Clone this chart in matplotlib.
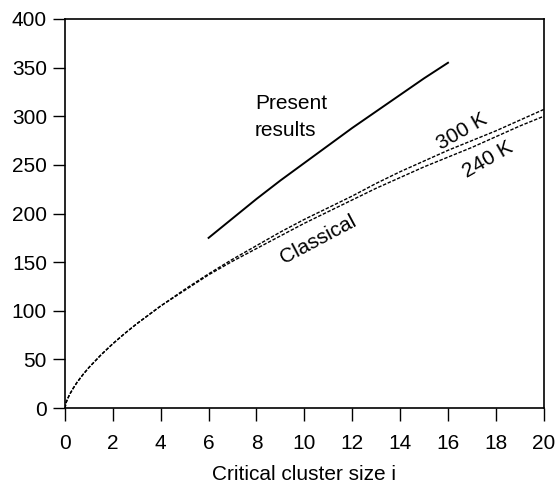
import matplotlib.pyplot as plt

plt.rcParams['font.family'] = ['Liberation Sans', 'DejaVu Sans']

# present (kinetic) results: barrier vs critical cluster size
present_i = [6, 7, 8, 9, 10, 11, 12, 13, 14, 15, 16]
present_w = [175, 195, 215, 234, 252, 270, 288, 305, 322, 339, 355]

# classical nucleation theory at two temperatures
classical_i = [0, 0.05, 0.1, 0.2, 0.35, 0.5, 0.75, 1, 1.5, 2, 2.5, 3, 4, 5, 6, 7, 8,
               9, 10, 11, 12, 13, 14, 15, 16, 17, 18, 19, 20]
classical_300 = [0, 5.7, 9, 14.3, 20.6, 26.3, 34.4, 41.7, 54.6, 66.2, 76.8, 86.7,
                 105, 122, 138, 153, 167, 181, 194, 206, 218, 231, 243, 254,
                 265, 275, 285, 296, 307]
classical_240 = [0, 5.7, 9, 14.3, 20.6, 26.3, 34.4, 41.7, 54.6, 66.2, 76.8, 86.7,
                 105, 121, 137, 151, 164, 177, 190, 202, 214, 226, 237, 248,
                 258, 268, 279, 290, 300]

fig = plt.figure(figsize=(5.6, 4.87), dpi=100)
ax = fig.add_axes([0.116, 0.162, 0.855, 0.799])

ax.plot(present_i, present_w, color='black', lw=1.4)
ax.plot(classical_i, classical_300, color='black', lw=1.0, ls=(0, (2.5, 1.2)))
ax.plot(classical_i, classical_240, color='black', lw=1.0, ls=(0, (2.5, 1.2)))

ax.text(7.93, 299, 'Present\nresults', fontsize=15, ha='left', va='center',
        linespacing=1.5)
ax.text(16.58, 284, '300 K', fontsize=15, rotation=30, ha='center', va='center')
ax.text(17.66, 255, '240 K', fontsize=15, rotation=30, ha='center', va='center')
ax.text(10.56, 173, 'Classical', fontsize=15, rotation=28, ha='center', va='center')

ax.set_xlim(0, 20)
ax.set_ylim(0, 400)
ax.set_xticks(range(0, 21, 2))
ax.set_yticks(range(0, 401, 50))
ax.tick_params(direction='out', length=9, width=1, labelsize=15, pad=4)
ax.tick_params(axis='x', pad=10)
for s in ax.spines.values():
    s.set_linewidth(1.2)
ax.set_xlabel('Critical cluster size i', fontsize=15, labelpad=8)

fig.savefig('out.png', dpi=100)
